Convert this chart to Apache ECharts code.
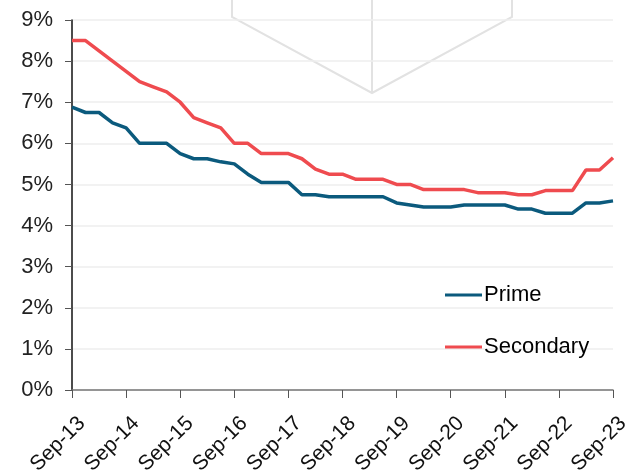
<!DOCTYPE html>
<html>
<head>
<meta charset="utf-8">
<script src="https://cdn.jsdelivr.net/npm/echarts@6/dist/echarts.min.js"></script>
<style>
  html, body { margin: 0; padding: 0; background: #fff; }
  #chart { width: 629px; height: 475px; }
</style>
</head>
<body>
<div id="chart"></div>
<script>
// quarterly yields, Sep-13 .. Sep-23
var quarters = ['Sep','Dec','Mar','Jun'];
var categories = [];
for (var y = 13, q = 0; categories.length < 41; q++) {
    if (q > 0 && q % 4 === 2) y++;
    categories.push(quarters[q % 4] + '-' + y);
}

var prime = [6.88, 6.75, 6.75, 6.5, 6.375, 6.0, 6.0, 6.0, 5.75, 5.625,
             5.625, 5.55, 5.5, 5.25, 5.05, 5.05, 5.05, 4.75, 4.75, 4.7,
             4.7, 4.7, 4.7, 4.7, 4.55, 4.5, 4.45, 4.45, 4.45, 4.5,
             4.5, 4.5, 4.5, 4.4, 4.4, 4.3, 4.3, 4.3, 4.55, 4.55, 4.6];

var secondary = [8.5, 8.5, 8.25, 8.0, 7.75, 7.5, 7.375, 7.25, 7.0, 6.625,
                 6.5, 6.375, 6.0, 6.0, 5.75, 5.75, 5.75, 5.625, 5.375, 5.25,
                 5.25, 5.125, 5.125, 5.125, 5.0, 5.0, 4.875, 4.875, 4.875, 4.875,
                 4.8, 4.8, 4.8, 4.75, 4.75, 4.85, 4.85, 4.85, 5.35, 5.35, 5.65];

var yTicks = [0, 1, 2, 3, 4, 5, 6, 7, 8, 9];

var font = '"Liberation Sans", Arial, sans-serif';
var chart = echarts.init(document.getElementById('chart'));

chart.setOption({
    animation: false,
    textStyle: { fontFamily: font },
    grid: { left: 72, right: 16, top: 20, bottom: 85, outerBoundsMode: 'none' },
    // light grey chevron in the background
    graphic: [
        { type: 'polyline', z: 0, silent: true,
          shape: { points: [[232, 0], [232, 17], [372, 93], [512, 17], [512, 0]] },
          style: { stroke: '#e2e2e2', lineWidth: 2, fill: null } },
        { type: 'line', z: 0, silent: true,
          shape: { x1: 372, y1: 0, x2: 372, y2: 93 },
          style: { stroke: '#e2e2e2', lineWidth: 2 } }
    ],
    legend: {
        orient: 'vertical',
        left: 440,
        top: 279,
        itemWidth: 37,
        itemHeight: 24,
        itemGap: 30,
        icon: 'path://M0,11 L37,11 L37,14 L0,14 Z',
        textStyle: { fontFamily: font, fontSize: 22, color: '#000', padding: [0, 0, 0, -3] },
        data: ['Prime', 'Secondary']
    },
    xAxis: {
        type: 'category',
        data: categories,
        boundaryGap: false,
        axisLine: { lineStyle: { color: '#777', width: 1.5 } },
        axisTick: { interval: 3, length: 8, lineStyle: { color: '#555' } },
        axisLabel: { interval: 3, rotate: 45, fontSize: 21, color: '#111', margin: 40, padding: [0, -14, 0, 0] },
        splitLine: { show: false }
    },
    yAxis: {
        type: 'value',
        min: yTicks[0],
        max: yTicks[yTicks.length - 1],
        interval: 1,
        axisLine: { show: true, lineStyle: { color: '#111', width: 1.5 } },
        axisTick: { show: true, length: 7, lineStyle: { color: '#555' } },
        axisLabel: { formatter: '{value}%', fontSize: 22, color: '#222', margin: 19 },
        splitLine: { lineStyle: { color: '#eeeeee', width: 1.5 } }
    },
    series: [
        {
            name: 'Prime',
            type: 'line',
            data: prime,
            symbol: 'none',
            lineStyle: { color: '#0b5a7d', width: 3.5 },
            itemStyle: { color: '#0b5a7d' }
        },
        {
            name: 'Secondary',
            type: 'line',
            data: secondary,
            symbol: 'none',
            lineStyle: { color: '#ef4b4f', width: 3.5 },
            itemStyle: { color: '#ef4b4f' }
        }
    ]
});
</script>
</body>
</html>
